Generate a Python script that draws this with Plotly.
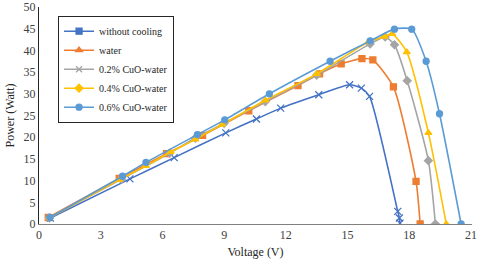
import plotly.graph_objects as go

# Data
names = ["without cooling", "water", "0.2% CuO-water", "0.4% CuO-water", "0.6% CuO-water"]

v_none = [0.55, 4.42, 6.57, 9.08, 10.57, 11.75, 13.6, 15.1, 15.67, 16.07, 17.44, 17.52, 17.55]
p_none = [1.4, 10.4, 15.3, 21.0, 24.2, 26.7, 29.8, 32.1, 31.3, 29.4, 2.9, 1.4, 0.2]

v_water = [0.45, 3.9, 6.2, 7.95, 10.2, 12.59, 13.64, 14.69, 15.7, 16.23, 17.23, 18.33, 18.53]
p_water = [1.5, 10.5, 16.2, 20.4, 26.1, 31.9, 34.6, 36.9, 38.1, 37.8, 31.6, 9.8, 0.0]

v_02 = [0.5, 4.0, 6.35, 7.6, 9.0, 11.0, 13.5, 16.1, 16.83, 17.28, 17.9, 18.93, 19.27]
p_02 = [1.4, 10.3, 16.3, 19.8, 23.2, 28.2, 34.3, 41.5, 43.1, 41.3, 33.0, 14.6, 0.0]

v_04 = [0.5, 3.9, 5.2, 6.4, 7.6, 8.9, 11.0, 13.5, 16.0, 16.8, 17.17, 17.88, 18.93, 19.8]
p_04 = [1.4, 10.2, 13.4, 16.6, 19.5, 22.9, 28.5, 34.6, 41.9, 43.2, 43.8, 39.6, 21.0, 0.0]

v_06 = [0.53, 4.06, 5.2, 7.7, 9.03, 11.2, 14.15, 16.1, 17.28, 18.12, 18.82, 19.47, 20.52]
p_06 = [1.5, 11.0, 14.2, 20.6, 24.0, 30.0, 37.5, 42.2, 44.9, 44.9, 37.5, 25.4, 0.0]

x_ticks = [0, 3, 6, 9, 12, 15, 18, 21]
y_ticks = [0, 5, 10, 15, 20, 25, 30, 35, 40, 45, 50]

colors = ["#4472C4", "#ED7D31", "#A5A5A5", "#FFC000", "#5B9BD5"]
plot_symbols = ["x-thin-open", "square", "diamond", "triangle-up", "circle"]
legend_symbols = ["square", "triangle-up", "x-thin-open", "diamond", "circle"]
series = [(v_none, p_none), (v_water, p_water), (v_02, p_02), (v_04, p_04), (v_06, p_06)]

fig = go.Figure()
for (vx, py), c, s in zip(series, colors, plot_symbols):
    fig.add_trace(go.Scatter(
        x=vx, y=py, mode="lines+markers", showlegend=False,
        line=dict(color=c, width=1.6, shape="spline", smoothing=0.6),
        marker=dict(symbol=s, size=6 if s != "x-thin-open" else 7, color=c,
                    line=dict(color=c, width=1.3)),
    ))
for n, c, s in zip(names, colors, legend_symbols):
    fig.add_trace(go.Scatter(
        x=[None], y=[None], mode="lines+markers", name=n,
        line=dict(color=c, width=1.6),
        marker=dict(symbol=s, size=6, color=c, line=dict(color=c, width=1.3)),
    ))

serif = "Liberation Serif, Times New Roman, DejaVu Serif, serif"
fig.update_layout(
    width=480, height=265,
    margin=dict(l=39, r=8, t=7, b=41),
    paper_bgcolor="white", plot_bgcolor="white",
    font=dict(family=serif, size=12, color="#404040"),
    xaxis=dict(range=[0, 21.05], tickvals=x_ticks, showgrid=False, zeroline=False,
               showline=True, linecolor="#808080", linewidth=1,
               title=dict(text="Voltage (V)", font=dict(size=12, family=serif, color="#262626"), standoff=6),
               tickfont=dict(size=12, family=serif), ticks="", automargin=False,
               ticklabeloverflow="allow"),
    yaxis=dict(range=[0, 50], tickvals=y_ticks, showgrid=False, zeroline=False,
               showline=True, linecolor="#262626", linewidth=1,
               title=dict(text="Power (Watt)", font=dict(size=12, family=serif, color="#262626"), standoff=6),
               tickfont=dict(size=12, family=serif), ticks="", automargin=False,
               ticklabeloverflow="allow"),
    legend=dict(x=0.044, y=0.96, xanchor="left", yanchor="top",
                bgcolor="white", bordercolor="#262626", borderwidth=1,
                font=dict(size=10, family=serif, color="#262626"),
                tracegroupgap=0, itemwidth=30),
)

fig.write_html("out.html", config={"displayModeBar": False},
               post_script="document.body.style.margin='0';document.body.style.padding='0';")
